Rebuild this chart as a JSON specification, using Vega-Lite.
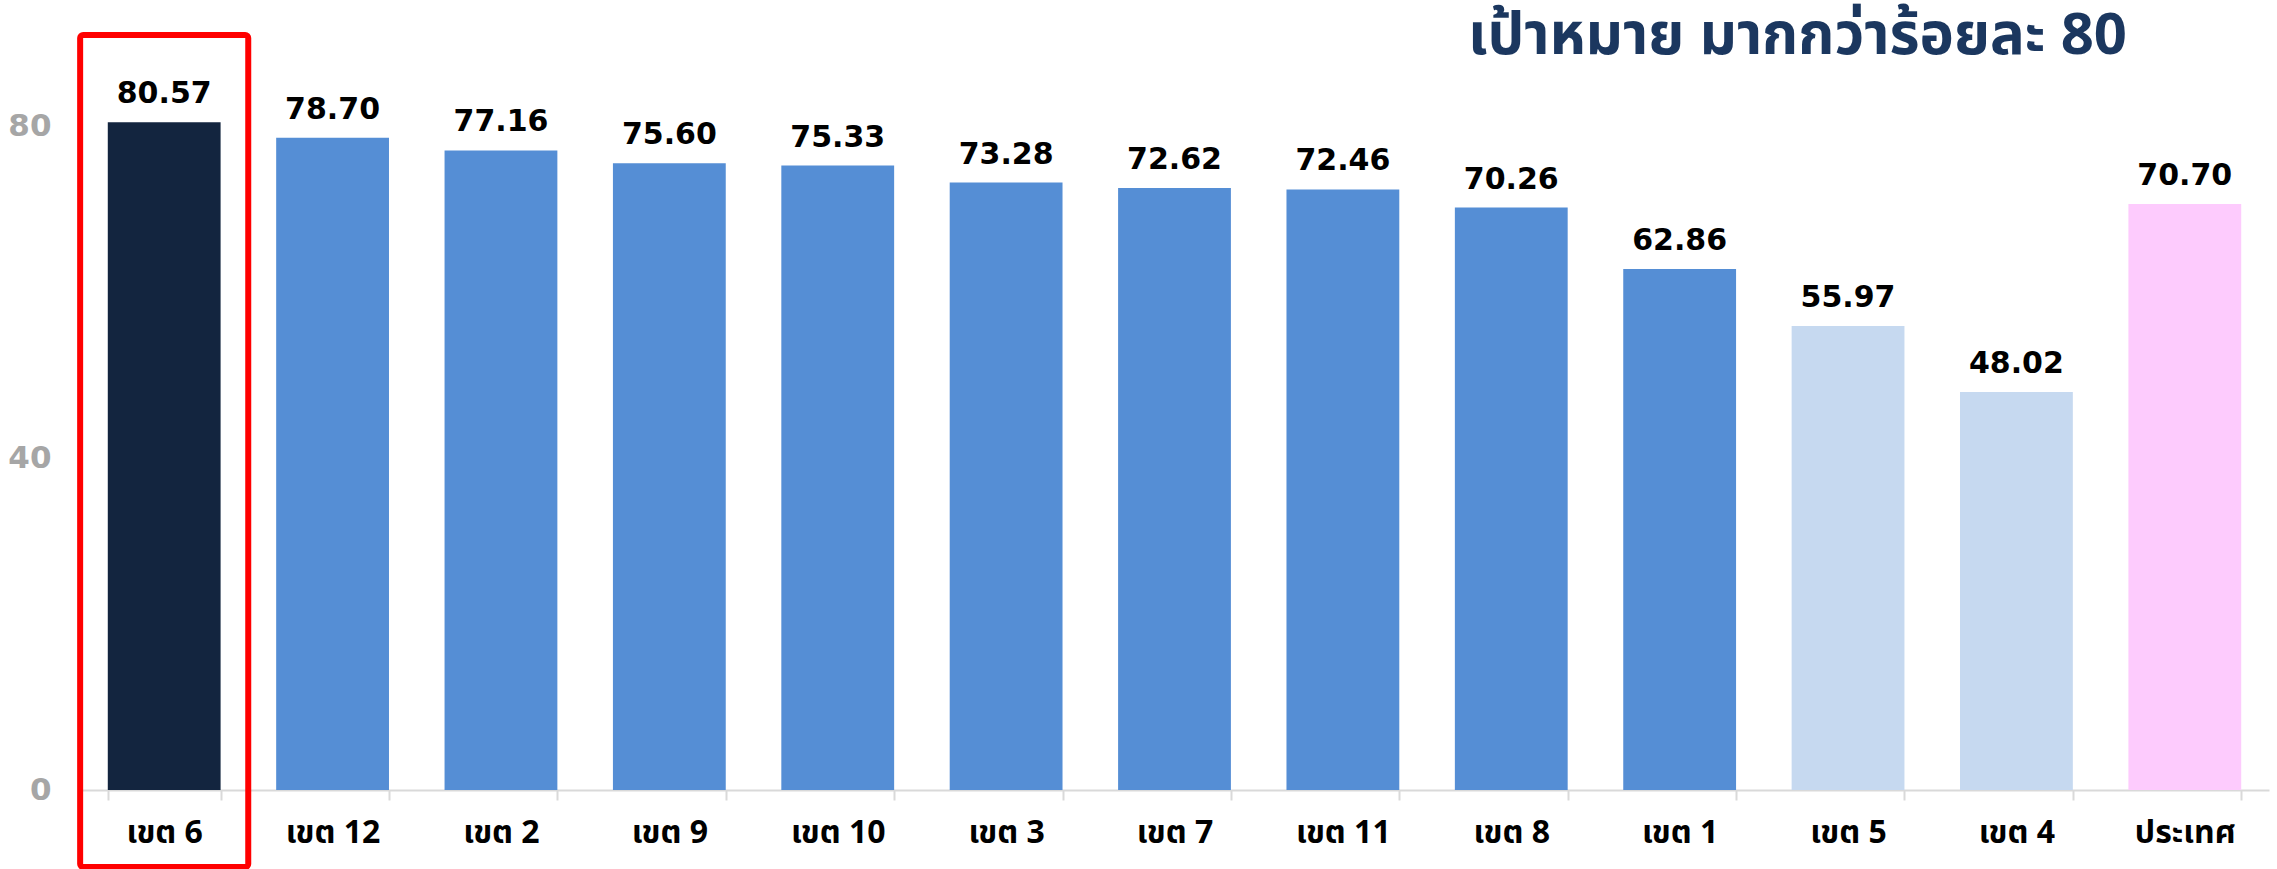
{
  "$schema": "https://vega.github.io/schema/vega-lite/v6.json",
  "width": 2189,
  "height": 746,
  "autosize": "none",
  "padding": {"left": 80, "top": 44, "right": 8, "bottom": 79},
  "background": "white",
  "config": {"view": {"stroke": null}},
  "title": {
    "text": "เป้าหมาย มากกว่าร้อยละ 80",
    "anchor": "end",
    "frame": "group",
    "font": "Tahoma, Noto Sans Thai, Noto Sans, sans-serif",
    "fontSize": 58,
    "fontWeight": "bold",
    "color": "#1B375F",
    "dx": -142,
    "dy": 34,
    "offset": 0
  },
  "data": {
    "values": [
      {"cat": "เขต 6", "value": 80.57, "group": "top"},
      {"cat": "เขต 12", "value": 78.70, "group": "mid"},
      {"cat": "เขต 2", "value": 77.16, "group": "mid"},
      {"cat": "เขต 9", "value": 75.60, "group": "mid"},
      {"cat": "เขต 10", "value": 75.33, "group": "mid"},
      {"cat": "เขต 3", "value": 73.28, "group": "mid"},
      {"cat": "เขต 7", "value": 72.62, "group": "mid"},
      {"cat": "เขต 11", "value": 72.46, "group": "mid"},
      {"cat": "เขต 8", "value": 70.26, "group": "mid"},
      {"cat": "เขต 1", "value": 62.86, "group": "mid"},
      {"cat": "เขต 5", "value": 55.97, "group": "low"},
      {"cat": "เขต 4", "value": 48.02, "group": "low"},
      {"cat": "ประเทศ", "value": 70.70, "group": "country"}
    ]
  },
  "encoding": {
    "x": {
      "field": "cat",
      "type": "nominal",
      "sort": null,
      "scale": {"paddingInner": 0.33, "paddingOuter": 0.165},
      "axis": {
        "title": null,
        "labelAngle": 0,
        "labelFont": "Tahoma, Noto Sans Thai, Noto Sans, sans-serif",
        "labelFontSize": 32,
        "labelFontWeight": "bold",
        "labelColor": "#000000",
        "labelPadding": 17,
        "domainColor": "#D9D9D9",
        "domainWidth": 2,
        "tickColor": "#D9D9D9",
        "tickWidth": 2,
        "tickSize": 10,
        "tickBand": "extent",
        "grid": false
      }
    }
  },
  "layer": [
    {
      "mark": {"type": "bar"},
      "encoding": {
        "y": {
          "field": "value",
          "type": "quantitative",
          "scale": {"domain": [0, 90], "nice": false},
          "axis": {
            "title": null,
            "values": [0, 40, 80],
            "grid": false,
            "domain": false,
            "ticks": false,
            "labelFont": "DejaVu Sans",
            "labelFontSize": 31,
            "labelFontWeight": "bold",
            "labelColor": "#A6A6A6",
            "labelPadding": 29
          }
        },
        "color": {
          "field": "group",
          "type": "nominal",
          "legend": null,
          "scale": {
            "domain": ["top", "mid", "low", "country"],
            "range": ["#13253F", "#558ED5", "#C6D9F0", "#FDCBFD"]
          }
        }
      }
    },
    {
      "mark": {
        "type": "text",
        "baseline": "alphabetic",
        "dy": -19,
        "font": "DejaVu Sans",
        "fontSize": 30,
        "fontWeight": "bold",
        "color": "#000000"
      },
      "encoding": {
        "y": {"field": "value", "type": "quantitative"},
        "text": {"field": "value", "type": "quantitative", "format": ".2f"}
      }
    },
    {
      "transform": [{"filter": "datum.group === 'top'"}],
      "mark": {
        "type": "bar",
        "filled": false,
        "stroke": "#FF0000",
        "strokeWidth": 6,
        "cornerRadius": 3,
        "width": {"band": 1.49},
        "clip": false
      },
      "encoding": {
        "y": {"datum": 91.1},
        "y2": {"datum": -9.3}
      }
    }
  ]
}
